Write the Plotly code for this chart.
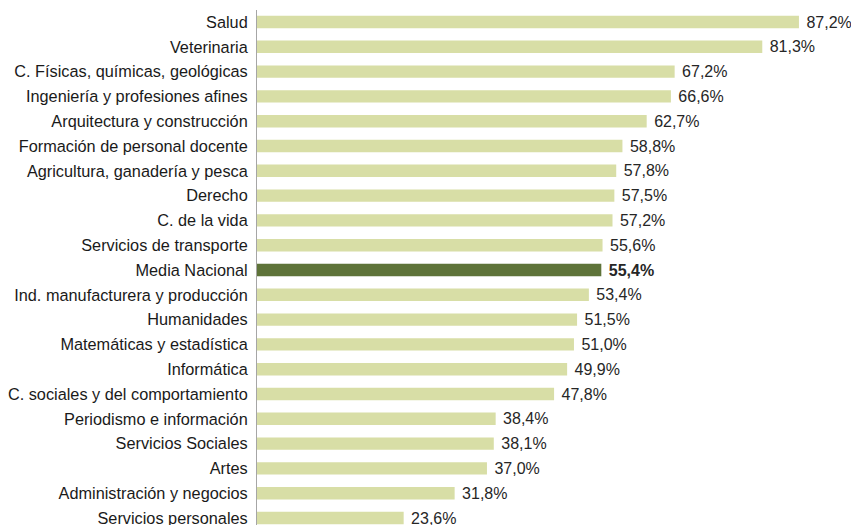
import plotly.graph_objects as go

categories = [
    "Salud", "Veterinaria", "C. Físicas, químicas, geológicas",
    "Ingeniería y profesiones afines", "Arquitectura y construcción",
    "Formación de personal docente", "Agricultura, ganadería y pesca",
    "Derecho", "C. de la vida", "Servicios de transporte", "Media Nacional",
    "Ind. manufacturera y producción", "Humanidades",
    "Matemáticas y estadística", "Informática",
    "C. sociales y del comportamiento", "Periodismo e información",
    "Servicios Sociales", "Artes", "Administración y negocios",
    "Servicios personales",
]
values = [87.2, 81.3, 67.2, 66.6, 62.7, 58.8, 57.8, 57.5, 57.2, 55.6, 55.4,
          53.4, 51.5, 51.0, 49.9, 47.8, 38.4, 38.1, 37.0, 31.8, 23.6]
highlight = "Media Nacional"

cats = categories[::-1]
vals = values[::-1]
colors = ["#5e7339" if c == highlight else "#d8dea6" for c in cats]
texts = []
for c, v in zip(cats, vals):
    s = f"{v:.1f}".replace(".", ",") + "%"
    texts.append("\u00a0" + (f"<b>{s}</b>" if c == highlight else s))

L, T = 257, 10
px_per_pct = 6.215
row = 24.8
hi = 20 + 12 / row

fig = go.Figure(go.Bar(
    x=vals, y=cats, orientation="h",
    marker=dict(color=colors, line=dict(width=0)),
    text=texts, textposition="outside", cliponaxis=False,
    constraintext="none", hoverinfo="skip",
    textfont=dict(family="Liberation Sans, Arial, sans-serif", size=16, color="#262626"),
    width=0.5,
))

fig.update_layout(
    width=851, height=525,
    margin=dict(l=L, r=0, t=T, b=0, autoexpand=False),
    paper_bgcolor="white", plot_bgcolor="white",
    showlegend=False,
    font=dict(family="Liberation Sans, Arial, sans-serif", size=16.3, color="#1a1a1a"),
    xaxis=dict(range=[0, (851 - L) / px_per_pct], visible=False, showgrid=False,
               zeroline=False, automargin=False),
    yaxis=dict(categoryorder="array", categoryarray=cats,
               range=[hi - (525 - T) / row, hi], automargin=False,
               showline=True, linecolor="#a6a6a6", linewidth=1,
               ticks="", showgrid=False, zeroline=False, ticklabelstandoff=5),
)

fig.write_html(
    "out.html",
    config={"displayModeBar": False},
    post_script="document.body.style.margin='0';document.body.style.overflow='hidden';",
)
